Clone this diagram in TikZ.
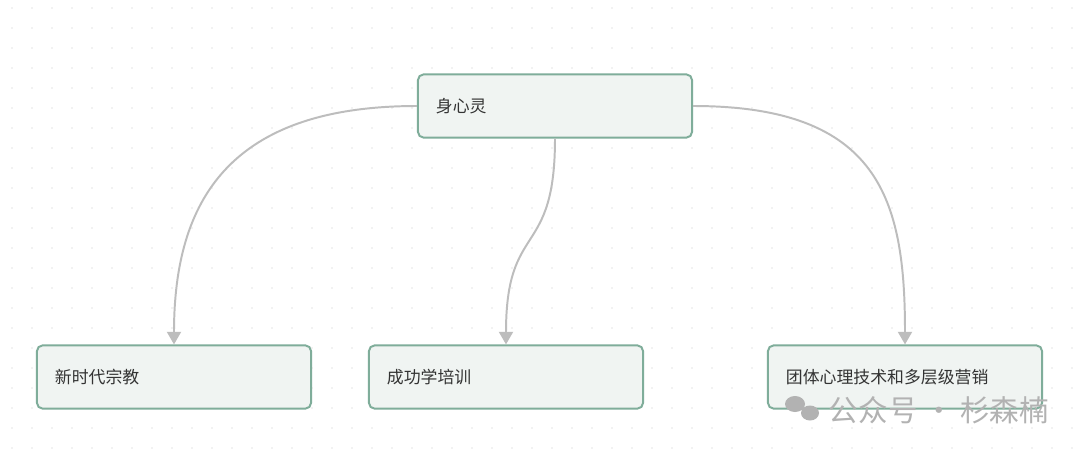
\documentclass[tikz,border=0pt]{standalone}
\usepackage{fontspec}
\newfontfamily\cjk{Noto Sans CJK SC}
\usetikzlibrary{arrows.meta}
\definecolor{boxfill}{HTML}{F0F4F2}
\definecolor{boxline}{HTML}{7FAD9A}
\definecolor{edgegray}{HTML}{BDBDBD}
\tikzset{
  box/.style={draw=boxline, line width=1.4pt, fill=boxfill, rounded corners=4pt,
    minimum width=6.85cm, minimum height=1.58cm, text width=5.95cm, align=left,
    font=\cjk\fontsize{12}{14}\selectfont, text=black!80},
  link/.style={draw=edgegray, line width=1.4pt, -{Triangle[length=9pt,width=10pt]}}
}
\begin{document}
\begin{tikzpicture}[x=0.025cm,y=-0.025cm]
                \useasboundingbox[fill=white] (0,0) rectangle (1080,454);
                \foreach \i in {0,...,53}
                  \foreach \j in {0,...,22}
                    \fill[black!22] (\i*20+12,\j*20+8) circle (0.5pt);

                \node[box] (mind) at (555,106) {身心灵};
                \node[box] (religion) at (174,377) {新时代宗教};
                \node[box] (success) at (506,377) {成功学培训};
                \node[box] (group) at (905,377) {团体心理技术和多层级营销};

                \draw[link] (mind.west) .. controls (230,106) and (174,200) .. (religion.north);
                \draw[link] (mind.south) .. controls (555,260) and (506,220) .. (success.north);
                \draw[link] (mind.east) .. controls (880,106) and (905,200) .. (group.north);

                % watermark
                \fill[black!30] (795,404) ellipse (10 and 8);
                \fill[black!30] (810,413) ellipse (9 and 7.5);
                \node[anchor=west, text=black!30, font=\cjk\fontsize{21}{23}\selectfont] (mark) at (824,410) {公众号 · 杉森楠};
            \end{tikzpicture}
\end{document}
